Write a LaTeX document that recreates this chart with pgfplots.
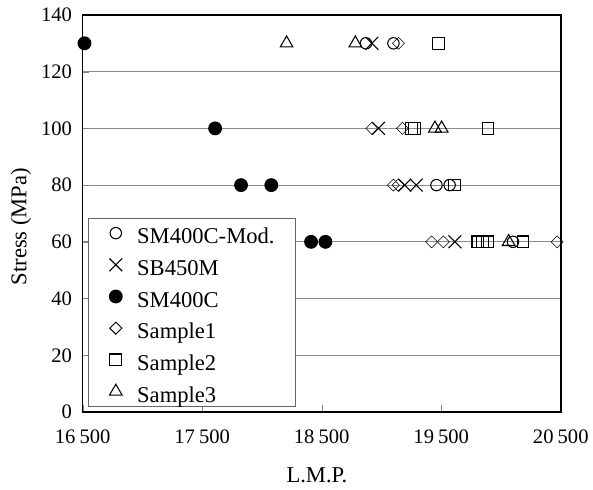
\documentclass[border=0pt]{standalone}
\usepackage{fontspec}
\setmainfont{Liberation Serif}
\usepackage{pgfplots}
\pgfplotsset{compat=1.18}
\begin{document}
\begin{tikzpicture}
\begin{axis}[
  name=ax,
  scale only axis, width=360pt, height=299pt,
  xmin=16500, xmax=20500, ymin=0, ymax=140,
  xtick={16500,17500,18500,19500,20500},
  ytick={0,20,...,140},
  scaled ticks=false,
  tick align=inside, xtick pos=bottom, ytick pos=left,
  major tick length=5pt,
  ymajorgrids, major grid style={black!45, line width=0.8pt},
  axis line style={line width=1.1pt},
  /pgf/number format/assume math mode=true,
  /pgf/number format/1000 sep={\hspace{0.2em}},
  tick label style={font=\fontsize{15.5}{17}\selectfont},
  xticklabel style={yshift=-10pt},
  yticklabel style={xshift=-4.5pt},
  xlabel={L.M.P.}, ylabel={Stress (MPa)},
  label style={font=\fontsize{17}{19}\selectfont},
  xlabel style={at={(axis description cs:0.49,-0.16)}, anchor=center},
  ylabel style={at={(axis description cs:-0.129,0.467)}, anchor=center},
  legend style={at={(rel axis cs:0.0104,0.0125)}, anchor=south west,
    draw=black!60, fill=white, line width=0.7pt,
    font=\fontsize{17}{19}\selectfont, row sep=4.1pt,
    inner xsep=16pt, inner ysep=1.5pt,
    nodes={inner sep=0pt, text height=17.95pt, text depth=1.8pt}},
  legend cell align=left,
  every axis plot/.append style={only marks, black, mark options={line width=0.8pt, solid},
    legend image code/.code={\path (0pt,0pt) (20.25pt,0pt);
      \draw[##1] plot coordinates {(4.5pt,0pt)};}},
]
\addplot[mark=o, mark size=4.3pt] coordinates {
 (18870,130) (19100,130) (19460,80) (19570,80) (20100,60)};
\addlegendentry{SM400C-Mod.}
\addplot[mark=x, mark size=6.8pt] coordinates {
 (18920,130) (18975,100) (19195,80) (19290,80) (19614,60)};
\addlegendentry{SB450M}
\addplot[mark=*, mark size=4.8pt, fill=black] coordinates {
 (16515,130) (17608,100) (17825,80) (18078,80) (18411,60) (18531,60)};
\addlegendentry{SM400C}
\addplot[mark=square, mark size=3.2pt, mark options={rotate=45}] coordinates {
 (19142,130) (18919,100) (19175,100) (19100,80) (19140,80) (19419,60) (19517,60) (20470,60)};
\addlegendentry{Sample1}
\addplot[mark=square, mark size=4.4pt] coordinates {
 (19475,130) (19250,100) (19275,100) (19892,100) (19610,80) (19806,60) (19847,60) (19889,60) (20183,60)};
\addlegendentry{Sample2}
\addplot[mark=triangle, mark size=5.5pt] coordinates {
 (18206,130) (18781,130) (19447,100) (19503,100) (20064,60)};
\addlegendentry{Sample3}
\end{axis}
\path ([shift={(-62.25pt,-58.5pt)}]ax.south west) rectangle ([shift={(22.5pt,11.25pt)}]ax.north east);
\end{tikzpicture}
\end{document}
